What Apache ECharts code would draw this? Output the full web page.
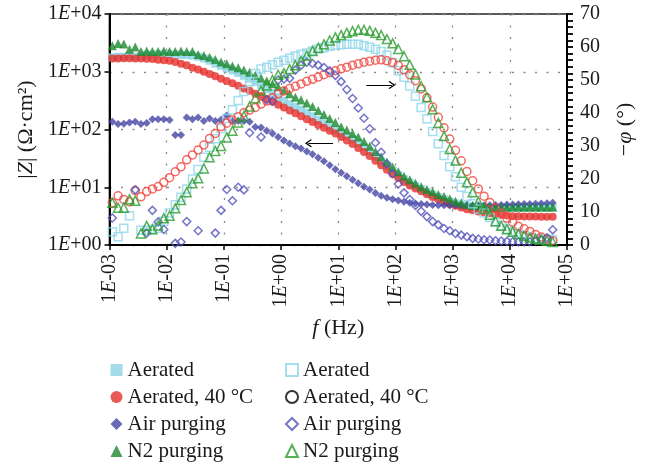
<!DOCTYPE html>
<html>
<head>
<meta charset="utf-8">
<script src="https://cdn.jsdelivr.net/npm/echarts@6.0.0/dist/echarts.min.js"></script>
<style>
  html, body { margin: 0; padding: 0; background: #ffffff; }
  #chart { width: 645px; height: 464px; }
</style>
</head>
<body>
<div id="chart"></div>
<script>
// Measurement frequencies (Hz), 10 points per decade
const freqHz = [
  0.001122, 0.001413, 0.001778, 0.002239, 0.002818, 0.003548, 0.004467, 0.005623, 0.007079, 0.008913,
  0.01122, 0.01413, 0.01778, 0.02239, 0.02818, 0.03548, 0.04467, 0.05623, 0.07079, 0.08913,
  0.1122, 0.1413, 0.1778, 0.2239, 0.2818, 0.3548, 0.4467, 0.5623, 0.7079, 0.8913,
  1.122, 1.413, 1.778, 2.239, 2.818, 3.548, 4.467, 5.623, 7.079, 8.913,
  11.22, 14.13, 17.78, 22.39, 28.18, 35.48, 44.67, 56.23, 70.79, 89.13,
  112.2, 141.3, 177.8, 223.9, 281.8, 354.8, 446.7, 562.3, 707.9, 891.3,
  1122, 1413, 1778, 2239, 2818, 3548, 4467, 5623, 7079, 8913,
  11220, 14130, 17780, 22390, 28180, 35480, 44670, 56230
];

// |Z| (Ohm.cm2)
const zAerated = [
  1778, 1820, 1820, 1862, 1820, 1862, 1950, 1995, 1995, 1995,
  1995, 1995, 1950, 1950, 1905, 1820, 1698, 1549, 1380, 1259,
  1148, 1047, 955, 851, 759, 661, 575, 501, 427, 363,
  316, 275, 245, 219, 195, 170, 148, 129, 112, 97.7,
  85.1, 75.9, 67.6, 58.9, 50.1, 41.7, 33.9, 28.2, 23.4, 19.5,
  16.2, 13.8, 12.0, 10.5, 9.33, 8.32, 7.41, 6.76, 6.17, 5.62,
  5.25, 4.90, 4.73, 4.57, 4.47, 4.42, 4.42, 4.42, 4.42, 4.42,
  4.42, 4.42, 4.42, 4.42, 4.42, 4.42, 4.42, 4.42
];
const zAerated40 = [
  1700, 1700, 1720, 1720, 1700, 1700, 1680, 1660, 1620, 1580,
  1550, 1480, 1380, 1290, 1175, 1096, 1000, 912, 832, 759,
  692, 631, 575, 513, 468, 417, 380, 339, 302, 269,
  240, 214, 191, 170, 151, 135, 120, 107, 95.5, 85.1,
  74.1, 64.6, 56.2, 47.9, 40.7, 34.7, 28.8, 24.0, 20.0, 17.0,
  14.5, 12.3, 10.7, 9.55, 8.51, 7.59, 6.76, 6.17, 5.62, 5.13,
  4.79, 4.47, 4.17, 3.98, 3.80, 3.67, 3.55, 3.43, 3.31, 3.24,
  3.16, 3.16, 3.13, 3.13, 3.13, 3.09, 3.09, 3.09
];
const zAirPurging = [
  136, 124, 126, 132, 136, 124, 129, 151, 151, 151,
  146, 80.4, 80.4, 162, 151, 162, 141, 155, 141, 148,
  174, 141, 141, 141, 136, 110, 108, 95.5, 85.1, 74.1,
  64.6, 57.5, 51.3, 46.8, 41.7, 37.2, 32.4, 28.2, 24.0, 20.4,
  17.8, 15.5, 13.5, 11.7, 10.2, 9.12, 7.94, 7.16, 6.61, 6.17,
  5.89, 5.62, 5.37, 5.25, 5.13, 5.01, 4.95, 4.90, 4.90, 4.84,
  4.90, 4.84, 4.90, 4.84, 4.90, 4.90, 4.90, 4.95, 4.95, 5.01,
  5.01, 5.07, 5.13, 5.13, 5.19, 5.25, 5.31, 5.37
];
const zN2Purging = [
  2820, 3090, 3020, 2455, 2690, 2240, 2290, 2240, 2240, 2290,
  2240, 2240, 2290, 2240, 2240, 1995, 1905, 1778, 1622, 1479,
  1380, 1259, 1175, 1072, 977, 871, 776, 692, 617, 550,
  479, 417, 363, 324, 288, 251, 214, 182, 155, 132,
  112, 97.7, 85.1, 74.1, 61.7, 51.3, 41.7, 33.9, 27.5, 22.4,
  18.6, 15.5, 13.5, 11.7, 10.2, 9.12, 8.32, 7.50, 6.92, 6.31,
  5.75, 5.37, 5.01, 4.84, 4.73, 4.68, 4.57, 4.57, 4.57, 4.57,
  4.57, 4.57, 4.57, 4.57, 4.57, 4.57, 4.57, 4.57
];

// -phase (degrees); null = point outside the 0-70 range
const phAerated = [
  4.0, 2.5, 5.1, 8.9, null, 4.5, 4.4, 4.7, 5.1, 7.2,
  9.7, 12.2, 14.5, 17.0, 20.0, 22.9, 26.6, 29.6, 32.2, 35.3,
  38.3, 41.0, 43.8, 46.5, 49.5, 52.0, 53.3, 53.9, 54.6, 55.4,
  56.0, 56.7, 57.3, 57.8, 58.2, 58.8, 59.4, 59.8, 60.2, 60.5,
  60.7, 60.8, 60.8, 60.8, 60.4, 59.9, 59.3, 58.6, 57.5, 55.2,
  52.8, 50.8, 48.2, 45.1, 41.7, 38.2, 34.4, 30.7, 27.1, 23.7,
  20.7, 17.5, 14.7, 12.5, 10.8, 9.7, 8.3, 7.0, 5.8, 4.8,
  4.0, 3.3, 2.8, 2.3, 2.0, 1.8, 1.7, 1.7
];
const phAerated40 = [
  12.8, 14.9, 13.8, 13.1, 16.5, 14.6, 16.2, 17.0, 17.7, 19.0,
  20.4, 22.2, 23.7, 25.8, 27.3, 28.8, 30.3, 32.3, 33.8, 35.9,
  36.9, 37.9, 38.9, 40.1, 40.9, 41.7, 42.7, 43.6, 44.6, 45.8,
  46.7, 47.4, 48.1, 48.8, 49.6, 50.2, 50.9, 51.6, 52.2, 52.8,
  53.4, 53.9, 54.5, 54.9, 55.4, 55.7, 56.0, 56.1, 55.8, 55.3,
  54.4, 53.1, 51.6, 49.8, 47.3, 44.6, 41.8, 38.7, 35.5, 32.1,
  28.7, 25.5, 22.3, 19.5, 17.0, 14.8, 12.9, 11.1, 9.6, 8.1,
  6.9, 5.7, 4.9, 4.1, 3.2, 2.4, 1.8, 1.3
];
const phAirPurging = [
  8.2, null, null, null, 16.7, null, 3.6, 10.5, 7.0, 4.7,
  null, 0.5, 0.9, 7.1, null, 4.3, null, null, 3.6, 10.5,
  16.8, 13.4, 17.5, 16.7, 34.0, null, 32.7, 44.0, 43.6, 50.0,
  50.3, 50.5, 53.0, 54.5, 55.4, 55.0, 54.5, 53.8, 52.8, 51.4,
  49.5, 47.1, 44.4, 41.5, 38.4, 35.2, 31.0, 28.1, 24.6, 21.6,
  18.5, 15.8, 13.8, 12.0, 10.2, 8.6, 7.1, 6.1, 5.0, 4.3,
  3.5, 3.0, 2.5, 2.0, 1.8, 1.6, 1.5, 1.3, 1.2, 1.1,
  1.0, 1.0, 1.0, 1.0, 1.2, 1.6, 2.2, 4.6
];
const phN2Purging = [
  12.8, 11.3, 11.3, 13.9, 13.4, 3.5, 5.8, 4.8, 5.9, 8.1,
  8.9, 11.1, 13.6, 16.0, 18.7, 20.2, 23.2, 26.6, 28.5, 30.0,
  32.6, 34.6, 37.1, 39.1, 42.0, 44.5, 46.8, 48.3, 50.0, 51.6,
  52.1, 53.3, 54.5, 55.8, 57.4, 58.8, 59.8, 60.8, 62.0, 62.9,
  63.6, 64.3, 64.8, 65.2, 65.2, 64.9, 64.3, 63.6, 62.4, 61.1,
  59.4, 57.2, 54.6, 51.7, 48.1, 44.8, 41.1, 37.0, 33.0, 29.1,
  25.6, 21.9, 19.0, 16.0, 13.1, 11.0, 9.2, 7.2, 5.8, 4.8,
  4.0, 3.3, 2.8, 2.3, 1.9, 1.6, 1.3, 0.9
];

// Axis tick labels
const xTickLabels = ['1E-03', '1E-02', '1E-01', '1E+00', '1E+01', '1E+02', '1E+03', '1E+04', '1E+05'];
const zTickLabels = ['1E+00', '1E+01', '1E+02', '1E+03', '1E+04'];

// Legend entries
const legendNames = ['Aerated', 'Aerated, 40 °C', 'Air purging', 'N2 purging'];

// Arrows pointing each curve family to its axis: [from, to] in data units
const phaseArrow = [[31, 48.5], [87, 48.5]];
const zArrow = [[8.1, 58], [3.0, 58]];

const SERIF = 'Liberation Serif';
const INK = '#1a1a1a';
const baseText = { fontFamily: SERIF, fontSize: 20, color: INK };
const rich = {
  n: Object.assign({}, baseText),
  e: Object.assign({}, baseText, { fontStyle: 'italic' })
};
const nameText = { fontFamily: SERIF, fontSize: 22, color: INK };
const nameRich = {
  i: Object.assign({}, nameText, { fontStyle: 'italic' }),
  p: Object.assign({}, nameText)
};

function sciLabel(labels, offset) {
  return function (v) {
    const s = labels[Math.round(Math.log10(v)) + offset];
    if (!s) return '';
    return '{n|1}{e|E}{n|' + s.slice(2) + '}';
  };
}

function pairs(vals) {
  const out = [];
  for (let i = 0; i < freqHz.length; i++) {
    if (vals[i] != null) out.push([freqHz[i], vals[i]]);
  }
  return out;
}

const PHASE_TAG = ' /phase';
const colors = {
  aerated: '#8dd3e6', aeratedOpen: '#8fd6ea',
  hot: '#e5302a', hotOpen: '#f0463f',
  air: '#4545a5', airOpen: '#5252bd',
  n2: '#1c8a2e', n2Open: '#2c9c2e'
};

function filled(name, vals, symbol, size, color) {
  return {
    name: name, type: 'scatter', xAxisIndex: 0, yAxisIndex: 0,
    symbol: symbol, symbolSize: size,
    itemStyle: { color: color, borderWidth: 0 },
    data: pairs(vals), silent: true
  };
}
function open(name, vals, symbol, size, color) {
  return {
    name: name + PHASE_TAG, type: 'scatter', xAxisIndex: 0, yAxisIndex: 1,
    symbol: symbol, symbolSize: size,
    itemStyle: { color: 'rgba(255,255,255,0)', borderColor: color, borderWidth: 1.5 },
    data: pairs(vals), silent: true
  };
}

const arrowHead = 'path://M5,0 L10,6 L9,7 L5,2.2 L1,7 L0,6 Z';
function arrowLine(coords) {
  return {
    silent: true, animation: false,
    symbol: ['none', arrowHead], symbolSize: [8, 7],
    label: { show: false },
    lineStyle: { color: '#000', width: 1, type: 'solid' },
    data: [[{ coord: coords[0] }, { coord: coords[1] }]]
  };
}

const sAerated = filled(legendNames[0], zAerated, 'rect', 8, colors.aerated);
const sHot = filled(legendNames[1], zAerated40, 'circle', 8, colors.hot);
const sAir = filled(legendNames[2], zAirPurging, 'diamond', 8, colors.air);
const sN2 = filled(legendNames[3], zN2Purging, 'triangle', 9, colors.n2);
sHot.markLine = arrowLine(zArrow);

const oAerated = open(legendNames[0], phAerated, 'rect', 8, colors.aeratedOpen);
const oHot = open(legendNames[1], phAerated40, 'circle', 8, colors.hotOpen);
const oAir = open(legendNames[2], phAirPurging, 'diamond', 8, colors.airOpen);
const oN2 = open(legendNames[3], phN2Purging, 'triangle', 9, colors.n2Open);
oHot.markLine = arrowLine(phaseArrow);

const dotted = { color: '#8a8a8a', width: 1.3, type: [2, 9.5] };
const legendText = { fontFamily: SERIF, fontSize: 21, color: INK, lineHeight: 21 };
const stripTag = function (name) { return name.replace(PHASE_TAG, ''); };
const legendBase = {
  orient: 'vertical', top: 359.5, height: 104, padding: 0,
  itemWidth: 12, itemHeight: 12, itemGap: 6,
  selectedMode: false, textStyle: legendText, formatter: stripTag
};

const option = {
  animation: false,
  backgroundColor: '#ffffff',
  grid: {
    left: 109.5, right: 78, top: 14, bottom: 219,
    show: true, borderColor: '#5a5a5a', borderWidth: 2, backgroundColor: 'transparent'
  },
  legend: [
    Object.assign({}, legendBase, {
      left: 110.5,
      data: legendNames.slice()
    }),
    Object.assign({}, legendBase, {
      left: 285,
      data: [
        { name: legendNames[0] + PHASE_TAG },
        { name: legendNames[1] + PHASE_TAG, itemStyle: { borderColor: '#000000' } },
        { name: legendNames[2] + PHASE_TAG },
        { name: legendNames[3] + PHASE_TAG }
      ]
    })
  ],
  xAxis: {
    type: 'log', logBase: 10, min: 0.001, max: 100000, splitNumber: 8,
    name: '{i|f}{p| (Hz)}', nameLocation: 'middle', nameGap: 72,
    nameTextStyle: { rich: nameRich },
    axisLine: { show: true, lineStyle: { color: '#000', width: 2 } },
    axisTick: { show: true, inside: false, length: 5, lineStyle: { color: '#000', width: 1.5 } },
    minorTick: { show: false },
    axisLabel: { rotate: 90, margin: 9, formatter: sciLabel(xTickLabels, 3), rich: rich },
    splitLine: { show: true, lineStyle: dotted }
  },
  yAxis: [
    {
      type: 'log', logBase: 10, min: 1, max: 10000, splitNumber: 4, position: 'left',
      name: '{p||}{i|Z}{p|| (Ω·cm²)}', nameLocation: 'middle', nameGap: 72, nameRotate: 90,
      nameTextStyle: { rich: nameRich },
      axisLine: { show: true, lineStyle: { color: '#000', width: 2 } },
      axisTick: { show: true, inside: false, length: 5, lineStyle: { color: '#000', width: 1.5 } },
      axisLabel: { margin: 8, formatter: sciLabel(zTickLabels, 0), rich: rich },
      splitLine: { show: true, lineStyle: dotted }
    },
    {
      type: 'value', min: 0, max: 70, interval: 10, position: 'right', alignTicks: false,
      name: '{p|−}{i|φ}{p| (°)}', nameLocation: 'middle', nameGap: 47, nameRotate: 90,
      nameTextStyle: { rich: nameRich },
      axisLine: { show: true, lineStyle: { color: '#000', width: 2 } },
      axisTick: { show: true, inside: false, length: 6, lineStyle: { color: '#000', width: 1.8 } },
      minorTick: { show: true, splitNumber: 5, length: 6, lineStyle: { color: '#000', width: 1.8 } },
      axisLabel: { margin: 13, fontFamily: SERIF, fontSize: 20, color: INK },
      splitLine: { show: false }
    }
  ],
  series: [sAerated, sHot, sAir, sN2, oAerated, oHot, oAir, oN2]
};

const chart = echarts.init(document.getElementById('chart'), null, { renderer: 'canvas' });
chart.setOption(option);
</script>
</body>
</html>
